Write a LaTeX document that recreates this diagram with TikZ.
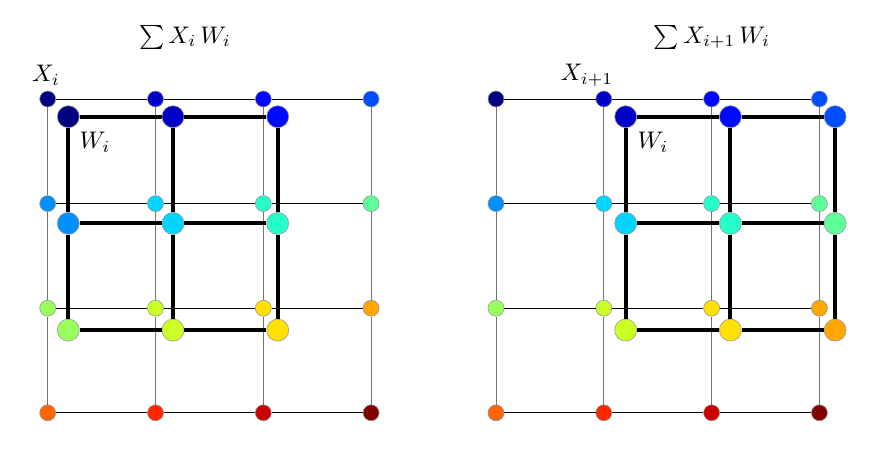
\documentclass[tikz,border=0pt]{standalone}
\usepackage{graphicx}
\usepackage{tikz}
\usetikzlibrary{positioning}
% jet colour map, 16 steps
\definecolor{jet0}{rgb}{0,0,0.5}
\definecolor{jet1}{rgb}{0,0,0.77}
\definecolor{jet2}{rgb}{0,0.03,1}
\definecolor{jet3}{rgb}{0,0.3,1}
\definecolor{jet4}{rgb}{0,0.57,1}
\definecolor{jet5}{rgb}{0,0.83,1}
\definecolor{jet6}{rgb}{0.15,1,0.8}
\definecolor{jet7}{rgb}{0.37,1,0.6}
\definecolor{jet8}{rgb}{0.6,1,0.37}
\definecolor{jet9}{rgb}{0.8,1,0.15}
\definecolor{jet10}{rgb}{1,0.88,0}
\definecolor{jet11}{rgb}{1,0.65,0}
\definecolor{jet12}{rgb}{1,0.4,0}
\definecolor{jet13}{rgb}{1,0.15,0}
\definecolor{jet14}{rgb}{0.8,0,0}
\definecolor{jet15}{rgb}{0.5,0,0}
\newcommand{\bigmath}[1]{\scalebox{2.4}{$#1$}}

\begin{document}
\begin{tikzpicture}[x=1pt, y=-1pt,
  xdot/.style={circle, draw=gray!80, line width=0.6pt, inner sep=0pt, minimum size=16pt},
  wdot/.style={xdot, minimum size=22pt},
  hline/.style={black, line width=1pt},
  vline/.style={black!55, line width=1pt},
  wlink/.style={black, line width=4pt},
  lbl/.style={inner sep=0pt}]
  \useasboundingbox (0,0) rectangle (875,450);
  % inputs X (4x4) and weights W (3x3), left and right
  \foreach \g/\gx/\wx/\sh in {l/47.7/68.3/0, r/496/625.7/1} {
    \foreach \r in {0,...,3}
      \foreach \c in {0,...,3} {
        \pgfmathtruncatemacro{\k}{4*\r+\c}
        \node[xdot, fill=jet\k] (\g x\r\c) at (\gx+\c*107.8, 99+\r*104.6) {};
      }
    \foreach \r in {0,...,2}
      \foreach \c in {0,...,2} {
        \pgfmathtruncatemacro{\k}{4*\r+\c+\sh}
        \node[wdot, fill=jet\k] (\g w\r\c) at (\wx+\c*104.7, 116.7+\r*106.7) {};
      }
    \foreach \a/\b in {0/1,1/2,2/3}
      \foreach \i in {0,...,3} {
        \draw[hline] (\g x\i\a) -- (\g x\i\b);
        \draw[vline] (\g x\a\i) -- (\g x\b\i);
      }
    \foreach \a/\b in {0/1,1/2}
      \foreach \i in {0,...,2} {
        \draw[wlink] (\g w\i\a) -- (\g w\i\b);
        \draw[wlink] (\g w\a\i) -- (\g w\b\i);
      }
  }
  % labels
  \node[lbl] (lsum) at (185,37) {\bigmath{\sum X_i\,W_i}};
  \node[lbl] (rsum) at (712,37) {\bigmath{\sum X_{i+1}\,W_i}};
  \node[lbl] (lxlab) at (46,75) {\bigmath{X_i}};
  \node[lbl] (rxlab) at (587,75) {\bigmath{X_{i+1}}};
  \node[lbl] (lwlab) at (95,142) {\bigmath{W_i}};
  \node[lbl] (rwlab) at (653,142) {\bigmath{W_i}};
\end{tikzpicture}
\end{document}
